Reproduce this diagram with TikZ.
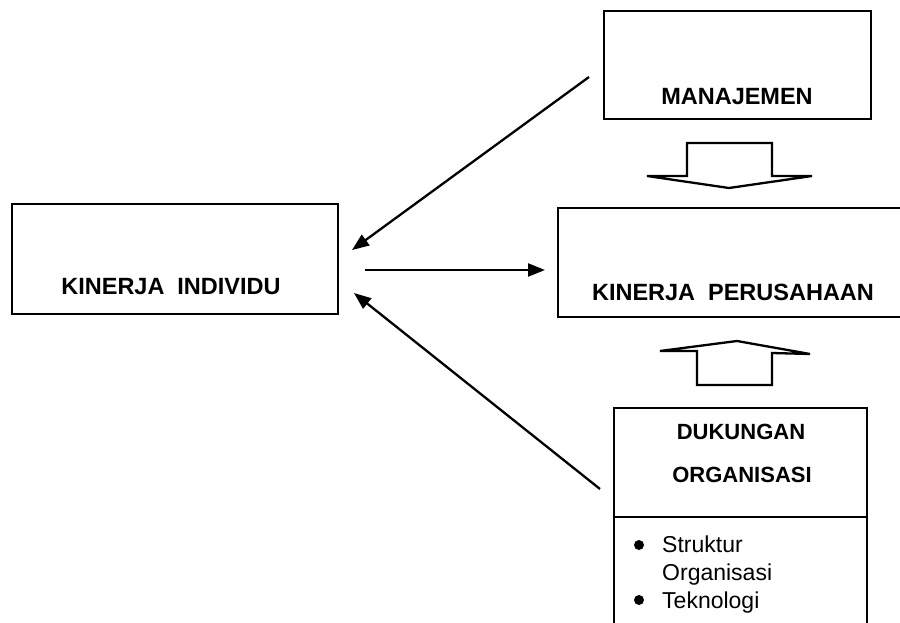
\documentclass[tikz,border=0pt]{standalone}
\usepackage{fontspec}
\setmainfont{Liberation Sans}
\usetikzlibrary{arrows.meta}
\begin{document}
\begin{tikzpicture}[x=1pt,y=-1pt,
  box/.style={draw, line width=2.3pt, inner sep=0pt, outer sep=0pt},
  title/.style={font=\bfseries\fontsize{23.5}{28}\selectfont, inner sep=0pt},
  subtitle/.style={font=\bfseries\fontsize{22}{26}\selectfont, inner sep=0pt},
  item/.style={font=\fontsize{23}{26}\selectfont, inner sep=0pt, anchor=base west},
  dot/.style={circle, fill, inner sep=0pt, minimum size=10pt},
  conn/.style={line width=2.3pt, -{Triangle[length=17pt,width=13pt]}},
  blockarrow/.style={draw, line width=2.3pt, line join=miter}]
\clip (0,0) rectangle (900,623);
\fill[white] (0,0) rectangle (900,623);

% boxes
\node[box, minimum width=326pt, minimum height=110pt] (indiv) at (175,259) {};
\node[title] (indivtext) at (171,287) {KINERJA\hspace{0.55em}INDIVIDU};

\node[box, minimum width=267pt, minimum height=108pt] (mgmt) at (737.5,65) {};
\node[title] (mgmttext) at (737,97) {MANAJEMEN};

\node[box, minimum width=350pt, minimum height=109pt] (firm) at (733,262.5) {};
\node[title] (firmtext) at (733,292) {KINERJA\hspace{0.55em}PERUSAHAAN};

\node[box, minimum width=253pt, minimum height=109pt] (support) at (740.5,462.5) {};
\node[subtitle] (supporttext1) at (741,432) {DUKUNGAN};
\node[subtitle] (supporttext2) at (742,475) {ORGANISASI};
\draw[line width=2.3pt] (support.south west) -- ++(0,140);
\draw[line width=2.3pt] (support.south east) -- ++(0,140);

% list of supporting factors
\node[dot] (b1) at (639,545) {};
\node[item] (s1) at (662,552) {Struktur};
\node[item] (s2) at (662,580) {Organisasi};
\node[dot] (b2) at (639,600) {};
\node[item] (s3) at (662,608) {Teknologi};

% block arrows between the right-hand boxes
\draw[blockarrow] (687,143) -- (772,143) -- (772,176) -- (812,176)
  -- (729,188) -- (647,176) -- (687,176) -- cycle;
\draw[blockarrow] (697,385) -- (772,385) -- (772,353) -- (810,354)
  -- (737,341) -- (660,351) -- (697,351) -- cycle;

% connectors
\draw[conn] ([xshift=-15pt,yshift=-12pt]mgmt.west) -- ([xshift=14pt,yshift=9pt]indiv.east);
\draw[conn] ([xshift=27pt,yshift=-11pt]indiv.east) -- ([xshift=-13pt,yshift=-7.5pt]firm.west);
\draw[conn] ([xshift=-14pt,yshift=-26.5pt]support.west) -- ([xshift=16pt,yshift=-34pt]indiv.east);
\end{tikzpicture}
\end{document}
